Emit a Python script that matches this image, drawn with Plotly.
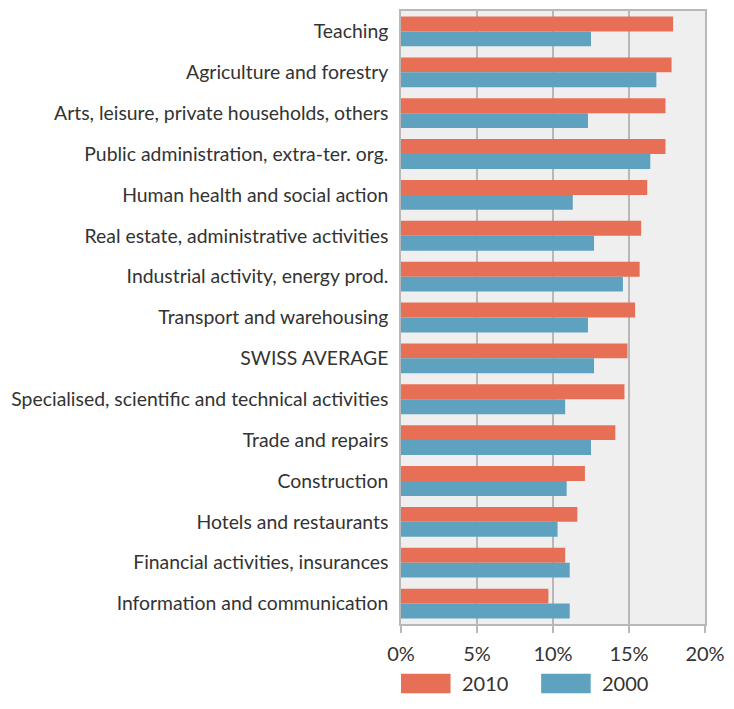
import plotly.graph_objects as go

sectors = [
    "Teaching",
    "Agriculture and forestry",
    "Arts, leisure, private households, others",
    "Public administration, extra-ter. org.",
    "Human health and social action",
    "Real estate, administrative activities",
    "Industrial activity, energy prod.",
    "Transport and warehousing",
    "SWISS AVERAGE",
    "Specialised, scientific and technical activities",
    "Trade and repairs",
    "Construction",
    "Hotels and restaurants",
    "Financial activities, insurances",
    "Information and communication",
]
share_2010 = [17.9, 17.8, 17.4, 17.4, 16.2, 15.8, 15.7, 15.4, 14.9, 14.7, 14.1, 12.1, 11.6, 10.8, 9.7]
share_2000 = [12.5, 16.8, 12.3, 16.4, 11.3, 12.7, 14.6, 12.3, 12.7, 10.8, 12.5, 10.9, 10.3, 11.1, 11.1]
x_ticks = [0, 5, 10, 15, 20]

ORANGE = "#E76F56"
BLUE = "#5EA2BF"
FONT = "Lato"
TEXT = "#333333"

fig = go.Figure()
fig.add_trace(go.Bar(y=sectors, x=share_2010, name="2010", orientation="h",
                     marker=dict(color=ORANGE, line=dict(width=0))))
fig.add_trace(go.Bar(y=sectors, x=share_2000, name="2000", orientation="h",
                     marker=dict(color=BLUE, line=dict(width=0))))

# page body has an 8px margin on every side, keep the figure inside it
fig.update_layout(
    width=718, height=692,
    margin=dict(l=393, r=20, t=1, b=76),
    barmode="group", bargap=0.27, bargroupgap=0,
    plot_bgcolor="#EFEFEF", paper_bgcolor="white",
    font=dict(family=FONT, color=TEXT),
    showlegend=False,
)
fig.update_xaxes(
    range=[0, 20], tickvals=x_ticks, ticktext=[f"{v}%" for v in x_ticks],
    showgrid=True, gridcolor="#B8B8B8", gridwidth=1.5,
    showline=True, linecolor="#B8B8B8", linewidth=1.5, mirror=True,
    ticks="outside", ticklen=7, tickcolor="#B8B8B8", tickwidth=1.5,
    tickfont=dict(size=20, color=TEXT), ticklabelstandoff=4, zeroline=False,
    ticklabeloverflow="allow",
)
fig.update_yaxes(
    autorange="reversed", showline=True, linecolor="#B8B8B8", linewidth=1.5,
    mirror=True, ticks="", tickfont=dict(size=19.4, color=TEXT),
    ticklabelstandoff=7,
)

# legend drawn as boxes under the axis
for i, (name, col) in enumerate([("2010", ORANGE), ("2000", BLUE)]):
    x0 = i * 0.461
    fig.add_shape(type="rect", xref="paper", yref="paper",
                  x0=x0, x1=x0 + 0.163, y0=-0.113, y1=-0.081, line=dict(width=0),
                  fillcolor=col)
    fig.add_annotation(text=name, xref="paper", yref="paper", x=x0 + 0.194,
                       y=-0.097, xanchor="left", yanchor="middle", showarrow=False,
                       font=dict(size=20, color=TEXT))

fig.write_html("out.html")
